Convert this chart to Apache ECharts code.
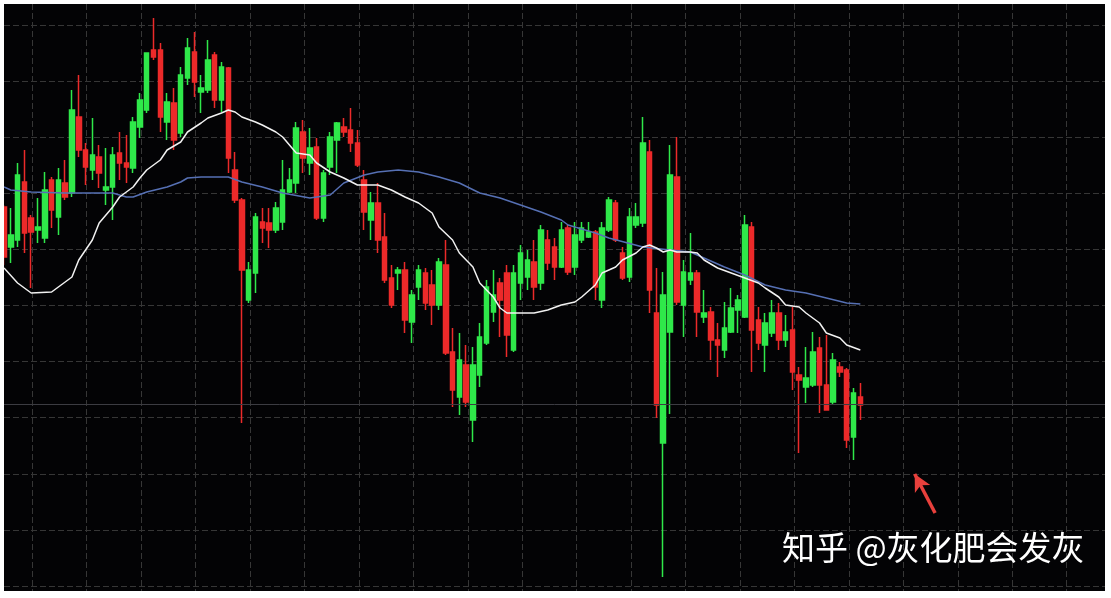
<!DOCTYPE html>
<html><head><meta charset="utf-8">
<script src="https://cdn.jsdelivr.net/npm/echarts@6/dist/echarts.min.js"></script>
<style>
html,body{margin:0;padding:0;background:#ffffff;width:1111px;height:598px;overflow:hidden}
#chart{position:absolute;left:4px;top:4px;width:1101px;height:587px;background:#030305}
</style>
</head><body><div id="chart"></div>
<script>
// ---- data (price units) ----
const openP = [393,353,360,418,382,370,362,420,383,417,
407,483,450,430,443,410,413,447,437,432,
473,490,550,550,478,497,467,522,548,508,
510,545,500,532,430,400,300,327,378,377,
370,378,408,417,468,437,453,382,433,460,
473,470,457,420,380,397,363,322,327,330,
278,313,327,315,295,335,248,203,235,180,
225,257,288,317,327,250,317,323,338,317,
360,353,333,372,333,360,363,368,300,370,
397,347,323,375,377,448,287,157,268,423,
295,320,327,283,288,260,250,268,290,283,
373,280,255,267,287,260,270,225,213,215,
252,215,198,233,230,163,203];
const closeP = [343,365,425,367,368,373,410,390,420,403,
490,450,433,445,427,413,445,437,433,478,
500,547,543,483,498,460,525,552,518,512,
540,500,533,442,400,330,330,383,372,370,
392,410,420,472,442,452,382,427,463,477,
468,457,435,388,397,360,320,295,330,280,
305,330,297,295,338,247,210,240,198,235,
263,313,305,300,265,327,347,340,313,370,
337,333,370,328,365,372,368,313,372,400,
360,322,383,383,457,310,195,305,425,298,
328,327,288,287,260,255,272,292,300,375,
270,257,277,287,260,268,228,220,222,248,
215,190,240,228,160,207,195];
const lowP = [335,337,353,347,312,357,357,372,365,400,
403,443,415,420,412,395,380,420,417,427,
462,487,540,468,460,450,463,515,503,487,
507,492,488,427,397,177,297,307,357,352,
367,370,407,407,427,425,380,378,425,427,
463,448,433,370,360,347,317,292,310,267,
257,300,290,275,290,245,193,185,193,158,
213,255,278,263,243,248,300,310,300,310,
330,320,332,325,325,357,362,300,292,368,
358,320,318,372,373,287,182,23,186,295,
263,315,263,277,240,223,242,267,267,282,
228,250,228,263,250,253,210,147,197,213,
187,190,195,223,152,140,180];
const highP = [395,392,437,450,385,402,428,423,432,440,
510,525,457,482,455,452,453,468,465,483,
507,547,582,557,507,512,533,562,568,525,
560,548,538,533,448,402,338,387,392,392,
398,440,432,478,480,472,462,430,468,478,
482,492,470,430,408,417,387,335,333,338,
310,335,332,330,342,360,272,267,255,253,
277,320,330,322,335,335,355,350,360,375,
370,362,378,375,378,378,378,370,378,403,
400,353,392,397,483,460,332,328,455,463,
340,367,330,310,293,277,298,312,305,385,
378,293,287,300,297,285,293,233,253,268,
263,265,247,238,232,212,217];
// moving-average lines: [bar index, value]
const maFast = [[0,332],[2,317],[4,307],[7,308],[8,313],[10,323],[11,340],[13,360],[14,377],[16,393],[17,403],[19,413],[20,422],[21,430],[23,440],[24,450],[26,458],[27,468],[29,477],[30,482],[32,487],[33,490],[34,488],[35,483],[37,478],[38,475],[40,468],[41,463],[43,447],[45,445],[46,437],[48,428],[50,422],[52,415],[55,415],[57,410],[59,403],[61,397],[63,387],[64,373],[66,360],[67,347],[69,333],[70,317],[72,303],[73,292],[74,287],[78,287],[80,290],[82,295],[84,298],[85,303],[87,315],[88,327],[90,333],[91,340],[93,347],[94,353],[95,355],[96,352],[97,348],[98,350],[99,348],[101,348],[102,347],[103,340],[105,332],[107,327],[109,322],[111,317],[112,312],[114,303],[115,295],[117,293],[118,287],[120,277],[121,267],[123,262],[124,255],[126,250]];
const maSlow = [[0,413],[1,410],[4,408],[9,407],[16,407],[18,403],[19,403],[21,408],[24,413],[26,418],[27,422],[29,423],[33,423],[35,418],[38,413],[41,407],[45,402],[48,405],[50,417],[53,425],[55,428],[58,430],[61,428],[64,423],[67,417],[70,407],[73,402],[76,395],[79,388],[82,380],[83,375],[87,367],[89,362],[94,353],[98,350],[101,348],[103,342],[106,333],[109,325],[112,315],[115,310],[118,307],[121,302],[124,297],[126,296]];
const levelLine = 196;
const arrowFrom = [137, 87];
const arrowTo = [134, 126];
const watermark = '知乎 @灰化肥会发灰';
const barSlots = 163;
const categories = Array.from({length: barSlots}, (_, i) => String(i + 1));

const candles = openP.map((o, i) => [o, closeP[i], lowP[i], highP[i]]);

const gridLine = {show: true, lineStyle: {color: '#363636', width: 1, type: [6, 3]}};
const hidden = {axisLine: {show: false}, axisTick: {show: false}, axisLabel: {show: false}};

const chart = echarts.init(document.getElementById('chart'), null, {renderer: 'canvas'});
chart.setOption({
  backgroundColor: 'transparent',
  animation: false,
  grid: [
    {left: 0, top: 21, width: 1101, height: 561},
    {left: 28.3, top: 0, width: 1034.4, height: 587},
    {left: 0, top: 0, width: 1101, height: 587}
  ],
  xAxis: [
    {gridIndex: 0, type: 'value', min: 0, max: 1, show: false},
    Object.assign({gridIndex: 1, type: 'value', min: 0, max: 19, interval: 1, splitLine: gridLine}, hidden),
    {gridIndex: 2, type: 'category', data: categories, boundaryGap: false, show: false}
  ],
  yAxis: [
    Object.assign({gridIndex: 0, type: 'value', min: 0, max: 100, interval: 10, splitLine: gridLine}, hidden),
    {gridIndex: 1, type: 'value', min: 0, max: 1, show: false},
    {gridIndex: 2, type: 'value', min: 9, max: 596, show: false}
  ],
  graphic: [{
    type: 'text', left: 778, top: 527, z: 100,
    style: {text: watermark, fill: '#ffffff', font: '33px "Noto Sans CJK SC"'}
  }],
  series: [
    {
      type: 'candlestick', xAxisIndex: 2, yAxisIndex: 2, data: candles,
      barWidth: 5, silent: true,
      itemStyle: {color: '#2fe84a', color0: '#ec2a2a', borderColor: '#2fe84a', borderColor0: '#ec2a2a', borderWidth: 1.5},
      markLine: {
        silent: true, animation: false, symbol: ['none', 'none'], label: {show: false},
        data: [
          {yAxis: levelLine, lineStyle: {color: '#3c3c42', width: 1, type: 'solid'}},
          [{coord: arrowFrom, symbol: 'none', lineStyle: {color: '#e8403c', width: 3.5, type: 'solid'}},
           {coord: arrowTo, symbol: 'arrow', symbolSize: [13, 17]}]
        ]
      }
    },
    {
      type: 'line', xAxisIndex: 2, yAxisIndex: 2, data: maFast, showSymbol: false, silent: true, z: 4,
      lineStyle: {color: '#f2f2f2', width: 1.5}
    },
    {
      type: 'line', xAxisIndex: 2, yAxisIndex: 2, data: maSlow, showSymbol: false, silent: true, z: 3,
      lineStyle: {color: '#5670b4', width: 1.5}
    }
  ]
});
</script></body></html>
